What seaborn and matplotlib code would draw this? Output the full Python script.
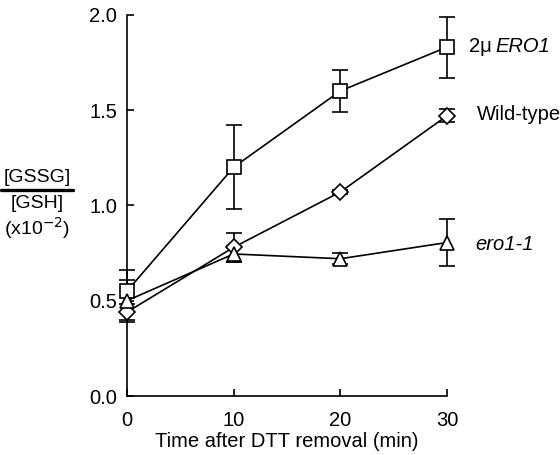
import numpy as np
import pandas as pd
import matplotlib
matplotlib.use("Agg")
import matplotlib.pyplot as plt
import seaborn as sns
from matplotlib.lines import Line2D

# data
times = [0, 10, 20, 30]
ero1_over = [0.55, 1.20, 1.60, 1.83]
ero1_over_err = [0.11, 0.22, 0.11, 0.16]
wild_type = [0.44, 0.78, 1.07, 1.47]
wild_type_err = [0.04, 0.075, 0.01, 0.035]
ero1_1 = [0.50, 0.745, 0.72, 0.805]
ero1_1_err = [0.11, 0.04, 0.03, 0.125]

series_names = ["2μ ERO1", "Wild-type", "ero1-1"]
series_vals = [ero1_over, wild_type, ero1_1]
series_errs = [ero1_over_err, wild_type_err, ero1_1_err]
markers = ["s", "D", "^"]
msizes = [10.5, 8, 10]

sns.set_style("ticks")
plt.rcParams['font.family'] = ['Liberation Sans', 'DejaVu Sans']
plt.rcParams['text.color'] = 'black'

fig = plt.figure(figsize=(5.6, 4.55), dpi=100)
ax = fig.add_axes([127/560, 1-396/455, (447-127)/560, (396-14.7)/455])

rows = []
for name, vals in zip(series_names, series_vals):
    for t, v in zip(times, vals):
        rows.append({"time": t, "value": v, "series": name})
df = pd.DataFrame(rows)

for name, vals, errs in zip(series_names, series_vals, series_errs):
    ax.errorbar(times, vals, yerr=errs, fmt="none", ecolor="black",
                elinewidth=1.2, capsize=5.5, capthick=1.2, zorder=2, clip_on=False)

for name, m, ms in zip(series_names, markers, msizes):
    sub = df[df["series"] == name]
    sns.lineplot(data=sub, x="time", y="value", ax=ax, color="black",
                 marker=m, markersize=ms, markerfacecolor="white",
                 markeredgecolor="black", markeredgewidth=1.2, linewidth=1.2,
                 zorder=3, clip_on=False, legend=False)

fs = 14.5
ax.set_xlim(0, 30)
ax.set_ylim(0, 2.0)
ax.set_xticks([0, 10, 20, 30])
ax.set_yticks([0.0, 0.5, 1.0, 1.5, 2.0])
ax.set_yticklabels(["0.0", "0.5", "1.0", "1.5", "2.0"])
ax.tick_params(direction="in", length=5, width=1.2, labelsize=fs, colors="black")
ax.tick_params(axis="x", pad=11)
ax.tick_params(axis="y", pad=7)
for s in ["top", "right"]:
    ax.spines[s].set_visible(False)
for s in ["left", "bottom"]:
    ax.spines[s].set_linewidth(1.2)
    ax.spines[s].set_color("black")
ax.set_xlabel("Time after DTT removal (min)", fontsize=fs, labelpad=1, color="black")
ax.set_ylabel("")

# series labels
fig.text(469/560, 1-47/455, "2μ ", fontsize=fs, va="center", ha="left")
fig.text(495/560, 1-47/455, "ERO1", fontsize=fs, va="center", ha="left", style="italic")
fig.text(477/560, 1-115/455, "Wild-type", fontsize=fs, va="center", ha="left")
fig.text(475/560, 1-244/455, "ero1-1", fontsize=fs, va="center", ha="left", style="italic")

# y label as fraction
fy = 14
cx = 37/560
fig.text(cx, 1-177/455, "[GSSG]", fontsize=fy, ha="center", va="center")
fig.add_artist(Line2D([1/560, 73/560], [1-190/455, 1-190/455], color="black", linewidth=2.4,
                      transform=fig.transFigure))
fig.text(cx, 1-204/455, "[GSH]", fontsize=fy, ha="center", va="center")
fig.text(cx, 1-228/455, "(x10$^{-2}$)", fontsize=fy, ha="center", va="center")

fig.savefig("out.png", dpi=100)
